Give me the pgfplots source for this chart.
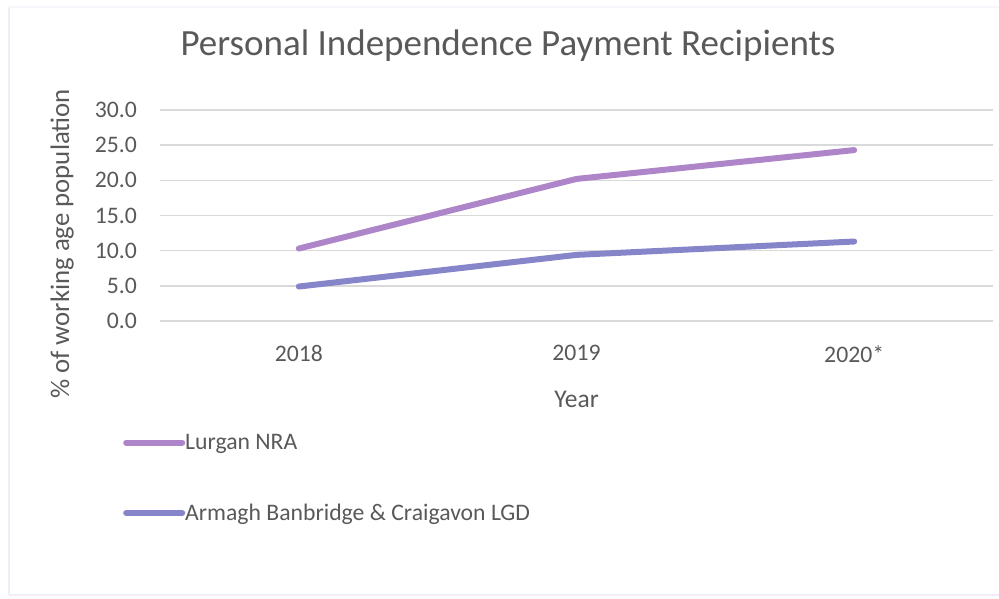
\documentclass[border=0pt]{standalone}
\usepackage{fontspec}
\setmainfont{Carlito}
\usepackage{pgfplots}
\pgfplotsset{compat=1.18}
\definecolor{txt}{HTML}{595959}
\definecolor{lur}{HTML}{AE85C8}
\definecolor{arm}{HTML}{8785C9}
\definecolor{grd}{HTML}{D9D9D9}
\definecolor{frm}{HTML}{F2ECF7}
\begin{document}
\begin{tikzpicture}[x=1pt,y=1pt]
\path[use as bounding box] (0,0) rectangle (999,599);
\draw[frm, line width=2pt] (9,4) -- (9,592);
\draw[frm!60, line width=1.5pt] (9,592) -- (999,592);
\draw[frm, line width=2pt] (9,4) -- (999,4);
\begin{axis}[
  at={(160pt,278pt)}, anchor=south west,
  scale only axis, width=833pt, height=211pt,
  xmin=-0.5, xmax=2.5, ymin=0, ymax=30,
  xtick={0,1,2}, xticklabels={2018,2019,2020*},
  ytick={0,5,10,15,20,25,30},
  axis line style={draw=none},
  major tick length=0pt,
  ymajorgrids=true,
  grid style={grd, line width=1.5pt},
  tick label style={font=\fontsize{23.7}{28}\selectfont, text=txt},
  /pgf/number format/assume math mode=true,
  yticklabel style={/pgf/number format/.cd, fixed, fixed zerofill, precision=1, /tikz/.cd, anchor=east, inner sep=0pt, xshift=-23pt},
  xticklabel style={anchor=north, inner sep=0pt, yshift=-24pt},
  title={Personal Independence Payment Recipients},
  title style={font=\fontsize{37}{44}\selectfont, text=txt, at={(axis description cs:0.4178,1.275)}, anchor=center, inner sep=0pt},
  xlabel={Year},
  xlabel style={font=\fontsize{25.5}{30}\selectfont, text=txt, at={(axis description cs:0.5,-0.374)}, anchor=center, inner sep=0pt},
  ylabel={\% of working age population},
  ylabel style={font=\fontsize{26.8}{32}\selectfont, text=txt, at={(axis description cs:-0.1176,0.365)}, anchor=center, inner sep=0pt},
  legend style={at={(axis description cs:-0.0444,-0.5355)}, anchor=north west, draw=none, fill=none, inner sep=0pt,
    font=\fontsize{23.7}{28}\selectfont, text=txt, row sep=53pt, column sep=0pt,
    nodes={inner sep=0pt, anchor=west}},
  legend cell align=left,
  legend image code/.code={\path (0pt,0pt) -- (56pt,0pt);\draw[#1, line width=6pt, line cap=round] (3pt,0pt) -- (52pt,0pt);},
]
\addplot[lur, line width=6pt, line cap=round, line join=round] coordinates {(0,10.3) (1,20.2) (2,24.3)};
\addlegendentry{Lurgan NRA}
\addplot[arm, line width=6pt, line cap=round, line join=round] coordinates {(0,4.9) (1,9.4) (2,11.3)};
\addlegendentry{Armagh Banbridge \& Craigavon LGD}
\end{axis}
\end{tikzpicture}
\end{document}
